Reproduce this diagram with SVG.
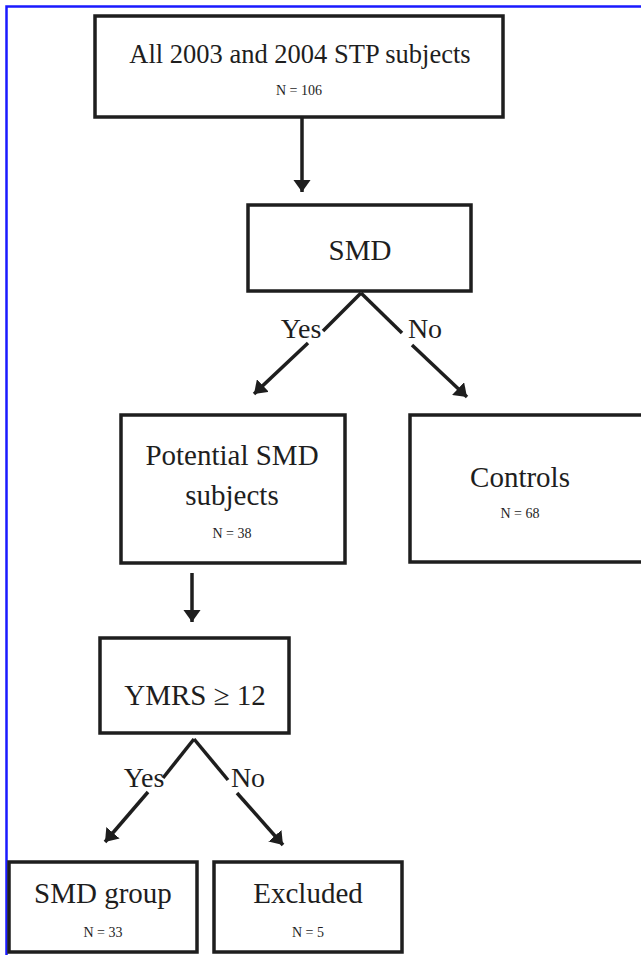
<svg xmlns="http://www.w3.org/2000/svg" width="641" height="955" viewBox="0 0 641 955">
<defs>
<style>
.box{fill:#fff;stroke:#1e1e1e;stroke-width:3.5}
.t{font-family:"Liberation Serif","Times New Roman",serif;fill:#1e1e1e;text-anchor:middle}
.big{font-size:29px}
.n{font-size:14px}
.lbl{font-size:28px}
.c{stroke:#1e1e1e;stroke-width:3.5;fill:none}
</style>
<marker id="ah" viewBox="0 0 7 10" refX="7" refY="5" markerWidth="3.5" markerHeight="5" orient="auto" markerUnits="strokeWidth">
<path d="M0,0 L7,5 L0,10 z" fill="#1e1e1e"/>
</marker>
</defs>
<rect width="641" height="955" fill="#fff"/>
<path d="M6.5,955 L6.5,6.5 L641,6.5" fill="none" stroke="#1a1aff" stroke-width="2.5"/>

<g id="n-all">
<rect class="box" x="95" y="16" width="408" height="101"/>
<text class="t" x="300" y="63" font-size="26.5">All 2003 and 2004 STP subjects</text>
<text class="t n" x="299" y="95">N = 106</text>
</g>
<g id="n-smd">
<rect class="box" x="248" y="205" width="223" height="86"/>
<text class="t big" x="360" y="260">SMD</text>
</g>
<g id="n-potential">
<rect class="box" x="121" y="415" width="224" height="148"/>
<text class="t big" x="232" y="465">Potential SMD</text>
<text class="t big" x="232" y="505">subjects</text>
<text class="t n" x="232" y="538">N = 38</text>
</g>
<g id="n-controls">
<rect class="box" x="410" y="415" width="240" height="147"/>
<text class="t big" x="520" y="487">Controls</text>
<text class="t n" x="520" y="518">N = 68</text>
</g>
<g id="n-ymrs">
<rect class="box" x="100" y="638" width="189" height="95"/>
<text class="t big" x="195" y="705">YMRS ≥ 12</text>
</g>
<g id="n-smdgroup">
<rect class="box" x="9" y="862" width="188" height="90"/>
<text class="t big" x="103" y="903">SMD group</text>
<text class="t n" x="103" y="937">N = 33</text>
</g>
<g id="n-excluded">
<rect class="box" x="214" y="862" width="188" height="90"/>
<text class="t big" x="308" y="903">Excluded</text>
<text class="t n" x="308" y="937">N = 5</text>
</g>

<g id="connectors">
<line class="c" x1="302" y1="117" x2="302" y2="192" marker-end="url(#ah)"/>
<line class="c" x1="361" y1="293" x2="323" y2="331"/>
<line class="c" x1="308" y1="343" x2="254" y2="394" marker-end="url(#ah)"/>
<line class="c" x1="361" y1="293" x2="402" y2="333"/>
<line class="c" x1="412" y1="345" x2="467" y2="397" marker-end="url(#ah)"/>
<line class="c" x1="192" y1="573" x2="192" y2="622" marker-end="url(#ah)"/>
<line class="c" x1="194" y1="739" x2="163" y2="778"/>
<line class="c" x1="148" y1="792" x2="105" y2="842" marker-end="url(#ah)"/>
<line class="c" x1="194" y1="739" x2="228" y2="780"/>
<line class="c" x1="237" y1="793" x2="283" y2="845" marker-end="url(#ah)"/>
<text class="t lbl" x="301" y="338">Yes</text>
<text class="t lbl" x="425" y="338">No</text>
<text class="t lbl" x="144" y="787">Yes</text>
<text class="t lbl" x="248" y="787">No</text>
</g>
</svg>
